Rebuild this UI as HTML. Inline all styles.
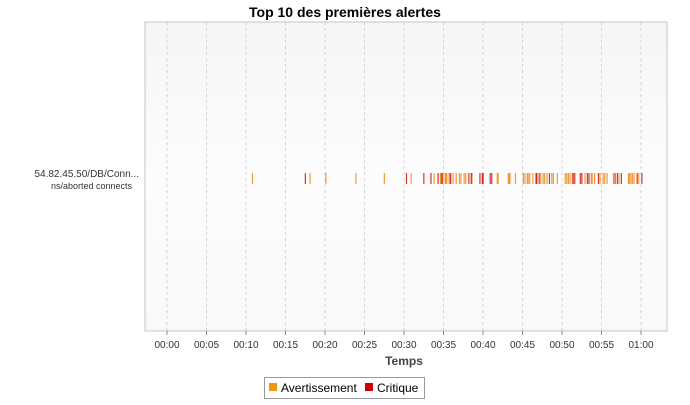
<!DOCTYPE html>
<html><head><meta charset="utf-8"><style>
body{margin:0;background:#fff;font-family:"Liberation Sans",sans-serif}
</style></head><body>
<svg id="c" width="690" height="400" xmlns="http://www.w3.org/2000/svg">
<defs><linearGradient id="bg" x1="0" y1="0" x2="0" y2="1"><stop offset="0" stop-color="#f6f6f6"/><stop offset="0.5" stop-color="#fcfcfc"/><stop offset="1" stop-color="#f9f9f9"/></linearGradient></defs>
<text x="345" y="17" text-anchor="middle" font-size="14" font-weight="bold" fill="#000">Top 10 des premières alertes</text>
<rect x="145" y="22" width="522" height="309" fill="url(#bg)" stroke="#c4c4c4"/>
<g id="grid"></g><g id="marks"></g><g id="xt"></g>
<text x="139" y="177" text-anchor="end" font-size="10" fill="#333">54.82.45.50/DB/Conn...</text>
<text x="132" y="189" text-anchor="end" font-size="9" fill="#333">ns/aborted connects</text>
<text x="404" y="365" text-anchor="middle" font-size="12" font-weight="bold" fill="#444">Temps</text>
<g>
<rect x="264.5" y="377.5" width="160" height="21" fill="#fff" stroke="#999"/>
<rect x="269" y="383" width="8" height="8" fill="#f0960f"/>
<text x="281" y="392" font-size="12" fill="#000">Avertissement</text>
<rect x="365" y="383" width="8" height="8" fill="#cc0000"/>
<text x="377" y="392" font-size="12" fill="#000">Critique</text>
</g>
</svg>
<script>
const ticks=[0,5,10,15,20,25,30,35,40,45,50,55,60];
const tickLabels=["00:00","00:05","00:10","00:15","00:20","00:25","00:30","00:35","00:40","00:45","00:50","00:55","01:00"];
const warnings=[10.8,18.1,20.1,23.9,27.5,30.9,33.8,34.6,34.7,34.9,35.2,35.3,35.4,35.7,35.8,36.2,36.6,37.0,37.2,37.6,37.8,38.6,41.8,41.9,43.2,43.3,43.4,44.1,45.1,45.3,45.6,45.7,45.9,46.3,47.3,47.6,47.8,48.1,48.7,48.9,49.4,50.4,50.6,50.8,51.0,51.3,52.9,53.7,53.8,54.1,54.8,55.2,55.4,55.7,56.5,57.2,58.4,58.5,58.7,58.9,59.1,59.7];
const criticals=[17.5,30.3,32.5,33.4,34.3,34.8,35.9,38.2,38.5,39.6,39.9,40.0,40.9,41.1,46.7,46.8,47.1,48.4,51.4,51.6,52.3,52.5,53.2,53.4,54.6,56.7,57.0,57.5,59.5,60.1];
const NS="http://www.w3.org/2000/svg";
function x(m){return 167+m*7.9;}
const grid=document.getElementById('grid'),xt=document.getElementById('xt'),mk=document.getElementById('marks');
ticks.forEach((t,i)=>{
 const l=document.createElementNS(NS,'line');
 l.setAttribute('x1',x(t));l.setAttribute('x2',x(t));l.setAttribute('y1',22);l.setAttribute('y2',331);
 l.setAttribute('stroke','#d4d4d4');l.setAttribute('stroke-dasharray','3,3');
 
 
 grid.appendChild(l);
 const k=document.createElementNS(NS,'line');
 k.setAttribute('x1',x(t));k.setAttribute('x2',x(t));k.setAttribute('y1',331);k.setAttribute('y2',335);k.setAttribute('stroke','#888');
 
 
 xt.appendChild(k);
 const tx=document.createElementNS(NS,'text');
 tx.setAttribute('x',x(t));tx.setAttribute('y',348);tx.setAttribute('text-anchor','middle');tx.setAttribute('font-size','10');tx.setAttribute('fill','#333');
 tx.textContent=tickLabels[i];
 
 
 xt.appendChild(tx);
});
function draw(arr,col,name){arr.forEach(m=>{
 const r=document.createElementNS(NS,'rect');
 r.setAttribute('x',x(m)-0.5);r.setAttribute('y',173);r.setAttribute('width',1.2);r.setAttribute('height',11);r.setAttribute('fill',col);r.setAttribute('opacity','0.85');
 
 
 mk.appendChild(r);});}
draw(warnings,'#ee8a1a','warning-mark');
draw(criticals,'#cc1010','critical-mark');
</script>
</body></html>
